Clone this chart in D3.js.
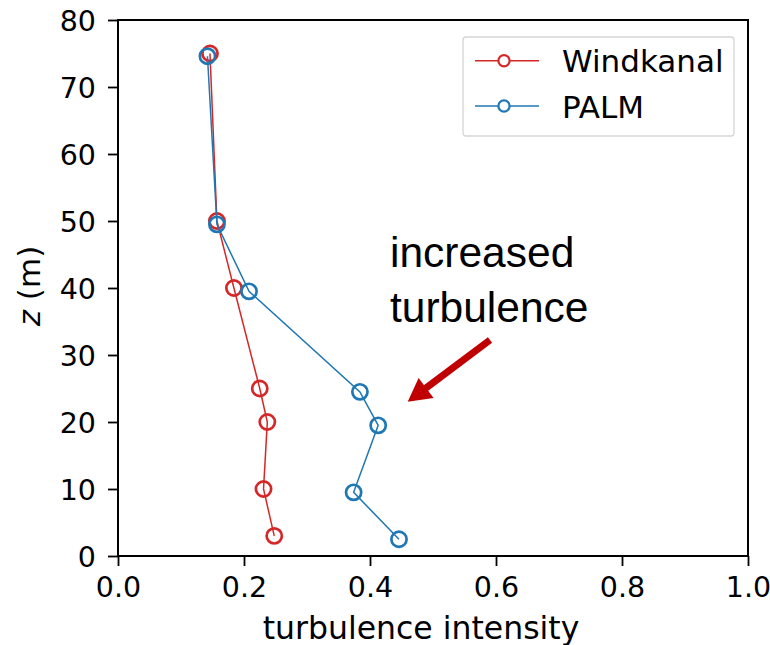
<!DOCTYPE html>
<html>
<head>
<meta charset="utf-8">
<script src="https://cdn.jsdelivr.net/npm/d3@7"></script>
<style>
  html, body { margin: 0; padding: 0; background: #fff; }
  svg { display: block; }
</style>
</head>
<body>
<svg id="chart" width="770" height="645"></svg>
<script>
// Turbulence intensity profiles: wind tunnel vs. PALM simulation
const windkanalZ  = [75, 50, 40, 25, 20, 10, 3];
const windkanalTI = [0.146, 0.157, 0.184, 0.225, 0.237, 0.231, 0.248];
const palmZ  = [74.6, 49.5, 39.5, 24.5, 19.5, 9.5, 2.5];
const palmTI = [0.142, 0.157, 0.208, 0.384, 0.413, 0.374, 0.446];
const xTicks = [0, 0.2, 0.4, 0.6, 0.8, 1.0];
const yTicks = [0, 10, 20, 30, 40, 50, 60, 70, 80];
const seriesNames = ["Windkanal", "PALM"];
const seriesColors = ["#d62728", "#1f77b4"];

const svg = d3.select("#chart");
const plotLeft = 118, plotRight = 748, plotTop = 20, plotBottom = 556;

const x = d3.scaleLinear().domain([0, 1]).range([plotLeft, plotRight]);
const y = d3.scaleLinear().domain([0, 80]).range([plotBottom, plotTop]);

const tickFont = "'DejaVu Sans', sans-serif";

// Axes
const xAxis = svg.append("g")
  .attr("transform", `translate(0,${plotBottom})`)
  .call(d3.axisBottom(x).tickValues(xTicks).tickFormat(d3.format(".1f")).tickSize(10).tickPadding(8));
const yAxis = svg.append("g")
  .attr("transform", `translate(${plotLeft},0)`)
  .call(d3.axisLeft(y).tickValues(yTicks).tickFormat(d3.format("d")).tickSize(10).tickPadding(12));

[xAxis, yAxis].forEach(g => {
  g.select(".domain").remove();
  g.selectAll(".tick line").attr("stroke", "#000").attr("stroke-width", 1.8);
  g.selectAll(".tick text")
    .attr("fill", "#000")
    .style("font-family", tickFont)
    .style("font-size", "28.5px");
});
xAxis.selectAll(".tick text").attr("dy", "0.8em");
yAxis.selectAll(".tick text").attr("dy", "0.36em");

// Frame (all four spines)
svg.append("rect")
  .attr("x", plotLeft).attr("y", plotTop)
  .attr("width", plotRight - plotLeft).attr("height", plotBottom - plotTop)
  .attr("fill", "none").attr("stroke", "#000").attr("stroke-width", 2);

// Axis labels
svg.append("text")
  .attr("x", 421).attr("y", 639)
  .attr("text-anchor", "middle")
  .style("font-family", tickFont).style("font-size", "31.5px")
  .text("turbulence intensity");

const yl = svg.append("text")
  .attr("transform", "translate(40,286) rotate(-90)")
  .attr("text-anchor", "middle")
  .style("font-family", tickFont).style("font-size", "31px");
yl.append("tspan").style("font-style", "italic").text("z");
yl.append("tspan").text(" (m)");

// Series
const series = [
  { name: seriesNames[0], color: seriesColors[0], pts: windkanalZ.map((z, i) => [windkanalTI[i], z]) },
  { name: seriesNames[1], color: seriesColors[1], pts: palmZ.map((z, i) => [palmTI[i], z]) }
];

const line = d3.line().x(d => x(d[0])).y(d => y(d[1]));

series.forEach(s => {
  const g = svg.append("g");
  g.append("path")
    .attr("d", line(s.pts))
    .attr("fill", "none")
    .attr("stroke", s.color)
    .attr("stroke-width", 1.5);
  g.selectAll("circle").data(s.pts).join("circle")
    .attr("cx", d => x(d[0]))
    .attr("cy", d => y(d[1]))
    .attr("r", 7.6)
    .attr("fill", "none")
    .attr("stroke", s.color)
    .attr("stroke-width", 2.7);
});

// Legend
const legend = svg.append("g");
legend.append("rect")
  .attr("x", 463).attr("y", 37)
  .attr("width", 271).attr("height", 99)
  .attr("rx", 3).attr("ry", 3)
  .attr("fill", "#fff")
  .attr("stroke", "#d6d6d6").attr("stroke-width", 1.3);

const rowY = [60.7, 106];
series.forEach((s, i) => {
  const r = legend.append("g");
  r.append("line")
    .attr("x1", 475).attr("x2", 539)
    .attr("y1", rowY[i]).attr("y2", rowY[i])
    .attr("stroke", s.color).attr("stroke-width", 1.5);
  r.append("circle")
    .attr("cx", 504).attr("cy", rowY[i]).attr("r", 5.6)
    .attr("fill", "#fff")
    .attr("stroke", s.color).attr("stroke-width", 2.2);
  r.append("text")
    .attr("x", 562).attr("y", rowY[i] + 11.5)
    .style("font-family", tickFont).style("font-size", "31px")
    .attr("fill", "#000")
    .text(s.name);
});

// Annotation
const ann = svg.append("text")
  .style("font-family", "'Liberation Sans', Arial, sans-serif")
  .style("font-size", "42.5px")
  .attr("fill", "#000");
ann.append("tspan").attr("x", 390).attr("y", 267).text("increased");
ann.append("tspan").attr("x", 390).attr("y", 322).text("turbulence");

// Arrow pointing at the PALM profile
const tail = [490, 340], tip = [407.7, 401.7];
const ang = Math.atan2(tip[1] - tail[1], tip[0] - tail[0]);
const headLen = 23, headHalf = 12.5;
const base = [tip[0] - headLen * Math.cos(ang), tip[1] - headLen * Math.sin(ang)];
const px = -Math.sin(ang), py = Math.cos(ang);
svg.append("line")
  .attr("x1", tail[0]).attr("y1", tail[1])
  .attr("x2", base[0] + 2 * Math.cos(ang)).attr("y2", base[1] + 2 * Math.sin(ang))
  .attr("stroke", "#c00000").attr("stroke-width", 7);
svg.append("polygon")
  .attr("points", [
    tip,
    [base[0] + headHalf * px, base[1] + headHalf * py],
    [base[0] - headHalf * px, base[1] - headHalf * py]
  ].map(p => p.join(",")).join(" "))
  .attr("fill", "#c00000");
</script>
</body>
</html>
